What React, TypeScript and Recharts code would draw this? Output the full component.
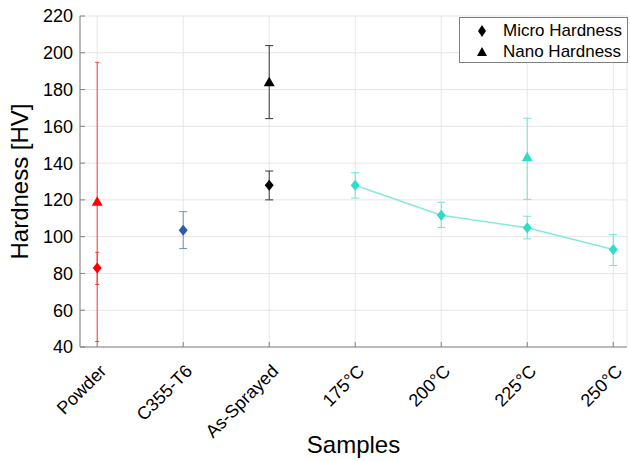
import {
  ComposedChart,
  Scatter,
  ErrorBar,
  XAxis,
  YAxis,
  CartesianGrid,
} from "recharts";

const samples = ["Powder", "C355-T6", "As-Sprayed", "175°C", "200°C", "225°C", "250°C"];

// micro hardness, one per sample
const microHardness = [83, 103.5, 128, 128, 111.7, 104.8, 93];
const microLow = [74, 93.5, 120, 121, 105, 98.8, 84.3];
const microHigh = [91.5, 113.6, 135.7, 134.8, 118.7, 111.1, 101.1];

// nano hardness, only three samples
const nanoSamples = [0, 2, 5];
const nanoHardness = [119, 184, 143.2];
const nanoLow = [43, 164.2, 120.3];
const nanoHigh = [194.8, 203.9, 164.4];

const yTicks = [40, 60, 80, 100, 120, 140, 160, 180, 200, 220];

const GROUPS = [
  { key: "red", idx: [0], fill: "#ff0000", bar: "#ff3b3b", cap: 2 },
  { key: "blue", idx: [1], fill: "#2a5caa", bar: "#6f8fca", cap: 4 },
  { key: "black", idx: [2], fill: "#000000", bar: "#333333", cap: 4 },
  { key: "cyan", idx: [3, 4, 5, 6], fill: "#2fdcc4", bar: "#6fe6d6", cap: 4 },
];

const FONT = '"Liberation Sans", Arial, Helvetica, sans-serif';

type Row = { x: number; y: number; err: [number, number] };

function microRows(idx: number[]): Row[] {
  return idx.map((i) => ({
    x: i,
    y: microHardness[i],
    err: [microHardness[i] - microLow[i], microHigh[i] - microHardness[i]],
  }));
}

function nanoRows(idx: number[]): Row[] {
  const out: Row[] = [];
  nanoSamples.forEach((s, j) => {
    if (idx.includes(s)) {
      out.push({
        x: s,
        y: nanoHardness[j],
        err: [nanoHardness[j] - nanoLow[j], nanoHigh[j] - nanoHardness[j]],
      });
    }
  });
  return out;
}

const Diamond = (fill: string) => (props: any) => {
  const { cx, cy } = props;
  return (
    <path
      d={`M${cx},${cy - 5.5}L${cx + 4.5},${cy}L${cx},${cy + 5.5}L${cx - 4.5},${cy}Z`}
      fill={fill}
    />
  );
};

const Triangle = (fill: string) => (props: any) => {
  const { cx, cy } = props;
  return (
    <path
      d={`M${cx},${cy - 5.5}L${cx + 5.5},${cy + 4}L${cx - 5.5},${cy + 4}Z`}
      fill={fill}
    />
  );
};

const XTick = (props: any) => {
  const { x, y, payload } = props;
  return (
    <g transform={`translate(${x + 6},${y + 18})`}>
      <text
        transform="rotate(-45)"
        textAnchor="end"
        dominantBaseline="central"
        fontSize={18}
        fill="#000"
        fontFamily={FONT}
      >
        {samples[payload.value]}
      </text>
    </g>
  );
};

const Empty = () => <g />;

const legendItems = [
  { label: "Micro Hardness", shape: "M5,0L9,6L5,12L1,6Z", top: 3 },
  { label: "Nano Hardness", shape: "M5,1L10,10L0,10Z", top: 24 },
];

// legend drawn as an overlay so it does not shrink the plot
const LegendBox = () => (
  <div
    style={{
      position: "absolute",
      left: 459,
      top: 17,
      width: 169,
      height: 46,
      border: "1px solid #7f7f7f",
      background: "#fff",
      fontFamily: FONT,
      fontSize: 17,
      lineHeight: "19px",
      color: "#000",
      boxSizing: "border-box",
      whiteSpace: "nowrap",
    }}
  >
    {legendItems.map((it) => (
      <div key={it.label}>
        <svg
          width={10}
          height={12}
          style={{ position: "absolute", left: 17, top: it.top + 4 }}
        >
          <path d={it.shape} fill="#000" />
        </svg>
        <span style={{ position: "absolute", left: 43, top: it.top }}>{it.label}</span>
      </div>
    ))}
  </div>
);

export default function App() {
  return (
    <div style={{ position: "absolute", left: 0, top: 0, width: 630, height: 461, background: "#fff" }}>
      <ComposedChart
        width={630}
        height={461}
        margin={{ top: 16, right: 3, left: 0, bottom: 0 }}
        style={{ fontFamily: FONT }}
      >
        <CartesianGrid stroke="#e6e6e6" strokeWidth={1} />
        <XAxis
          dataKey="x"
          type="number"
          domain={[-0.2, 6.16]}
          ticks={[0, 1, 2, 3, 4, 5, 6]}
          allowDataOverflow
          height={114}
          stroke="#808080"
          tickSize={-5}
          tickMargin={8}
          tick={<XTick />}
          label={{
            value: "Samples",
            position: "insideBottom",
            offset: 8,
            fontSize: 24,
            fill: "#000",
          }}
        />
        <XAxis
          xAxisId="top"
          orientation="top"
          type="number"
          domain={[-0.2, 6.16]}
          ticks={[0, 1, 2, 3, 4, 5, 6]}
          allowDataOverflow
          height={0}
          stroke="#808080"
          tickSize={-5}
          tick={Empty}
        />
        <YAxis
          dataKey="y"
          type="number"
          domain={[40, 220]}
          ticks={yTicks}
          allowDataOverflow
          width={80}
          stroke="#808080"
          tickSize={-5}
          tickMargin={12}
          tick={{ fill: "#000", fontSize: 18 }}
          label={{
            value: "Hardness [HV]",
            angle: -90,
            position: "center",
            dx: -21,
            fontSize: 24,
            fill: "#000",
          }}
        />
        <YAxis
          yAxisId="right"
          orientation="right"
          type="number"
          domain={[40, 220]}
          ticks={yTicks}
          allowDataOverflow
          width={0}
          stroke="#808080"
          tickSize={-5}
          tick={Empty}
        />
        {GROUPS.map((g) => (
          <Scatter
            key={"micro-" + g.key}
            data={microRows(g.idx)}
            shape={Diamond(g.fill)}
            line={g.key === "cyan" ? { stroke: "#86e9dc", strokeWidth: 1.5 } : false}
            isAnimationActive={false}
            legendType="none"
          >
            <ErrorBar
              dataKey="err"
              direction="y"
              width={g.cap}
              stroke={g.bar}
              strokeWidth={1}
              isAnimationActive={false}
            />
          </Scatter>
        ))}
        {GROUPS.filter((g) => nanoRows(g.idx).length > 0).map((g) => (
          <Scatter
            key={"nano-" + g.key}
            data={nanoRows(g.idx)}
            shape={Triangle(g.fill)}
            isAnimationActive={false}
            legendType="none"
          >
            <ErrorBar
              dataKey="err"
              direction="y"
              width={g.cap}
              stroke={g.bar}
              strokeWidth={1}
              isAnimationActive={false}
            />
          </Scatter>
        ))}
      </ComposedChart>
      <LegendBox />
    </div>
  );
}
